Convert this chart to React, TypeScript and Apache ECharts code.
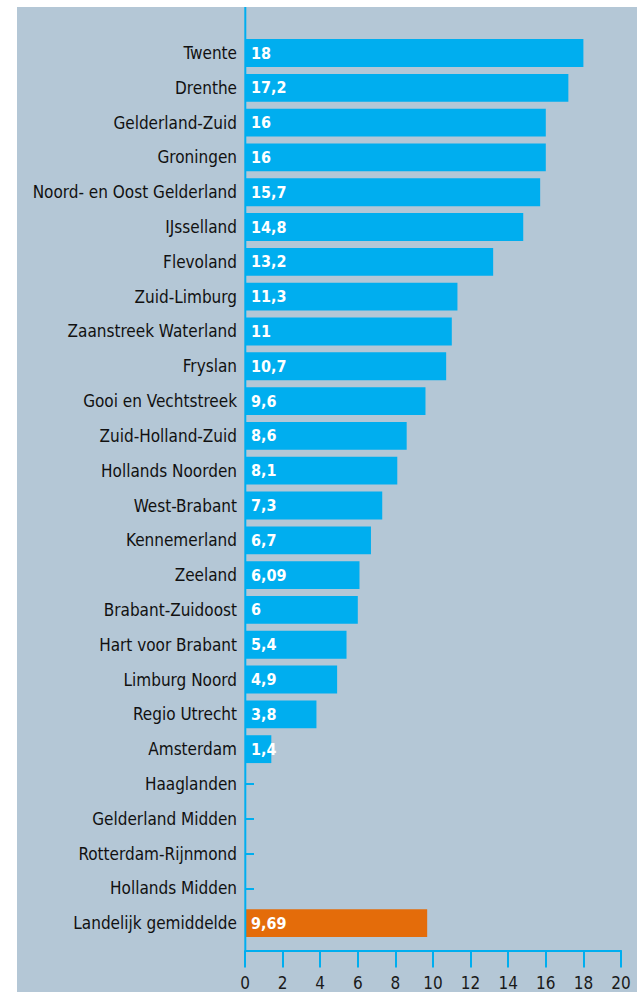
import React, { useEffect, useRef } from "react";
import * as echarts from "echarts";

const categories = [
  "Twente", "Drenthe", "Gelderland-Zuid", "Groningen", "Noord- en Oost Gelderland",
  "IJsselland", "Flevoland", "Zuid-Limburg", "Zaanstreek Waterland", "Fryslan",
  "Gooi en Vechtstreek", "Zuid-Holland-Zuid", "Hollands Noorden", "West-Brabant",
  "Kennemerland", "Zeeland", "Brabant-Zuidoost", "Hart voor Brabant", "Limburg Noord",
  "Regio Utrecht", "Amsterdam", "Haaglanden", "Gelderland Midden", "Rotterdam-Rijnmond",
  "Hollands Midden", "Landelijk gemiddelde",
];
const values: (number | null)[] = [
  18, 17.2, 16, 16, 15.7, 14.8, 13.2, 11.3, 11, 10.7, 9.6, 8.6, 8.1, 7.3, 6.7, 6.09,
  6, 5.4, 4.9, 3.8, 1.4, null, null, null, null, 9.69,
];
const highlight = "Landelijk gemiddelde";
const xTicks = { min: 0, max: 20, interval: 2 };

const BLUE = "#00aeef";
const ORANGE = "#e46c0a";
const FONT = "'DejaVu Sans Condensed', 'DejaVu Sans', sans-serif";

export default function App() {
  const ref = useRef<HTMLDivElement>(null);
  useEffect(() => {
    if (!ref.current) return;
    const chart = echarts.init(ref.current, null, { renderer: "svg" });
    chart.setOption({
      animation: false,
      backgroundColor: "#b4c7d6",
      grid: { left: 228, top: 28.6, width: 376, height: 905, containLabel: false },
      xAxis: {
        type: "value",
        min: xTicks.min,
        max: xTicks.max,
        interval: xTicks.interval,
        offset: 10,
        axisLine: { show: true, lineStyle: { color: BLUE, width: 2 } },
        axisTick: { show: true, length: 17, lineStyle: { color: BLUE, width: 2 } },
        axisLabel: { margin: 24, color: "#1a1a1a", fontSize: 17, fontFamily: FONT },
        splitLine: { show: false },
      },
      yAxis: {
        type: "category",
        data: categories,
        inverse: true,
        axisLine: { show: false },
        axisTick: { show: true, inside: true, alignWithLabel: true, length: 9, lineStyle: { color: BLUE, width: 2 } },
        axisLabel: { margin: 8, color: "#111", fontSize: 17, fontFamily: FONT },
      },
      graphic: [
        {
          type: "line",
          shape: { x1: 228.3, y1: 0, x2: 228.3, y2: 943 },
          style: { stroke: BLUE, lineWidth: 2 },
          z: 10,
        },
      ],
      series: [
        {
          type: "bar",
          barCategoryGap: "20%",
          data: values.map((v, i) => ({
            value: v,
            itemStyle: { color: categories[i] === highlight ? ORANGE : BLUE },
          })),
          label: {
            show: true,
            position: "insideLeft",
            distance: 6,
            color: "#fff",
            fontWeight: "bold",
            fontSize: 16,
            fontFamily: FONT,
            formatter: (p: any) => (p.value == null ? "" : String(p.value).replace(".", ",")),
          },
        },
      ],
    });
    return () => chart.dispose();
  }, []);
  return (
    <div style={{ position: "absolute", left: 0, top: 0, width: 637, height: 992, background: "#fff" }}>
      <div ref={ref} style={{ position: "absolute", left: 17, top: 7, width: 620, height: 985 }} />
    </div>
  );
}
